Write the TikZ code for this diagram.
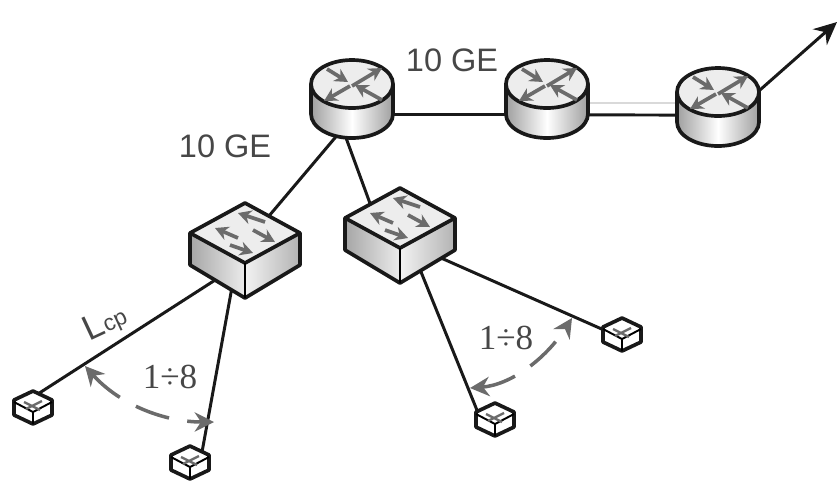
\documentclass[tikz,border=0pt]{standalone}
\usepackage{fontspec}
\setmainfont{Liberation Sans}
\newfontfamily\numfont{Liberation Serif}
\usepackage{xcolor}
\usetikzlibrary{arrows.meta}

\definecolor{textgrey}{gray}{0.28}
\definecolor{arrowgrey}{gray}{0.42}
\definecolor{facegrey}{gray}{0.93}

\tikzset{
    port/.style = {shape=circle, inner sep=0pt, minimum size=0pt},
    wire/.style = {line width=1.7pt, black!90},
    outline/.style = {line width=2.1pt, black!90, line join=round},
    glyph/.style = {line width=2.1pt, arrowgrey, -{Stealth[length=7.5pt,width=8pt]}},
    span/.style = {line width=2pt, arrowgrey, dash pattern=on 20pt off 10.5pt,
        {Stealth[length=11pt,width=11pt]}-{Stealth[length=11pt,width=11pt]}},
    label/.style = {textgrey, font=\fontsize{18.5}{20}\selectfont},
    count/.style = {textgrey, font=\numfont\fontsize{20}{22}\selectfont},
    router/.pic = {
        \path[left color=gray!75, right color=gray!75, middle color=white]
            (-41,-16) -- (-41,14) arc (180:0:41 and 24) -- (41,-16) -- cycle;
        \draw[outline] (-41,-16) -- (-41,14) arc (180:0:41 and 24) -- (41,-16);
        \draw[outline, fill=facegrey] (0,-16) ellipse [x radius=41, y radius=24];
        \draw[glyph] (0,-14) -- (30,-32);
        \draw[glyph] (-2,-14) -- (-28,1);
        \draw[glyph] (-25,-31) -- (-4,-18);
        \draw[glyph] (30,0) -- (3,-15);
    },
    switchbox/.pic = {
        \path[left color=gray!70, right color=gray!15]
            (-55,-2) -- (0,28) -- (0,63) -- (-55,30) -- cycle;
        \path[left color=gray!10, right color=gray!60]
            (55,-2) -- (0,28) -- (0,63) -- (55,30) -- cycle;
        \draw[outline, fill=facegrey] (0,-32) -- (55,-2) -- (0,28) -- (-55,-2) -- cycle;
        \draw[outline] (-55,-2) -- (-55,30) -- (0,63) -- (55,30) -- (55,-2);
        \draw[line width=1.1pt] (0,28) -- (0,63);
        \draw[glyph] (20,-13) -- (-7,-22);
        \draw[glyph] (-7,3) -- (-30,-7);
        \draw[glyph] (8,-5) -- (30,7);
        \draw[glyph] (-15,10) -- (8,18);
    },
    leaf/.pic = {
        \draw[outline, fill=white] (0,-17) -- (19,-8) -- (19,7) -- (0,16)
            -- (-19,7) -- (-19,-8) -- cycle;
        \draw[line width=1.1pt] (-19,-6) -- (0,4) -- (19,-6) (0,4) -- (0,16);
        \draw[line width=1.3pt, arrowgrey] (-9,-6) -- (7,2) (-7,1) -- (9,-7);
    }
}

\begin{document}
\begin{tikzpicture}[
        x = 0.02cm,
        y = -0.02cm,
        > = Stealth,
        node distance = 3.9cm
    ]
    \useasboundingbox (0,0) rectangle (837,485);

    % core
    \node[port] (RA) at (352,100) {};
    \node[port] (RB) [right of=RA] {};
    \node[port] (RC) at (718,108) {};
    \coordinate (exit) at (837,22);

    % access
    \node[port] (SA) at (245,235) {};
    \node[port] (SB) at (400,220) {};

    % subscribers
    \node[port] (HA) at (33,408) {};
    \node[port] (HB) at (190,463) {};
    \node[port] (HC) at (495,420) {};
    \node[port] (HD) at (622,335) {};

    % span ends
    \coordinate (SpanAa) at (85,366);
    \coordinate (SpanAb) at (214,422);
    \coordinate (SpanBa) at (470,388);
    \coordinate (SpanBb) at (572,318);

    \path[wire] ([yshift=-8.5pt]RA.center) edge node {} ([yshift=-8.5pt]RB.center);
    \path[wire] ([yshift=-8.5pt]RB.center) edge node {} ([yshift=-4pt]RC.center);
    \path[line width=1pt, gray!30] ([yshift=-1.7pt]RB.center) edge node {} ([yshift=2.8pt]RC.center);
    \path[wire, ->, >={Stealth[length=13pt,width=12pt]}] ([yshift=-10.8pt]RC.center) edge node {} (exit);

    \path[wire] ([xshift=8.5pt]RA.center) edge node {} ([xshift=4.5pt]SA.center);
    \path[wire] ([xshift=-11.3pt]RA.center) edge node {} ([xshift=-13.6pt]SB.center);

    \path[wire] ([yshift=-14.7pt]SA.center) edge node {} ([yshift=6.2pt]HA.center);
    \path[wire] ([xshift=-2pt]SA.center) edge node {} ([xshift=5.7pt]HB.center);
    \path[wire] (SB) edge node {} ([xshift=-8pt]HC.center);
    \path[wire] ([yshift=-11.3pt]SB.center) edge node {} ([yshift=-1.7pt]HD.center);

    \pic at (RA) {router};
    \pic at (RB) {router};
    \pic at (RC) {router};
    \pic at (SA) {switchbox};
    \pic at (SB) {switchbox};
    \pic at (HA) {leaf};
    \pic at (HB) {leaf};
    \pic at (HC) {leaf};
    \pic at (HD) {leaf};

    \draw[span] (SpanAa) .. controls (120,405) and (165,422) .. (SpanAb);
    \draw[span] (SpanBa) .. controls (510,385) and (545,360) .. (SpanBb);

    \node[label] (TopRate) at (452,60) {10 GE};
    \node[label] (SideRate) at (225,146) {10 GE};
    \node[textgrey, rotate=25, font=\fontsize{20}{22}\selectfont] (Lcp) at (105,323)
        {L{\fontsize{13}{15}\selectfont cp}};
    \node[count] (CountA) at (170,377) {1÷8};
    \node[count] (CountB) at (506,338) {1÷8};
\end{tikzpicture}
\end{document}
